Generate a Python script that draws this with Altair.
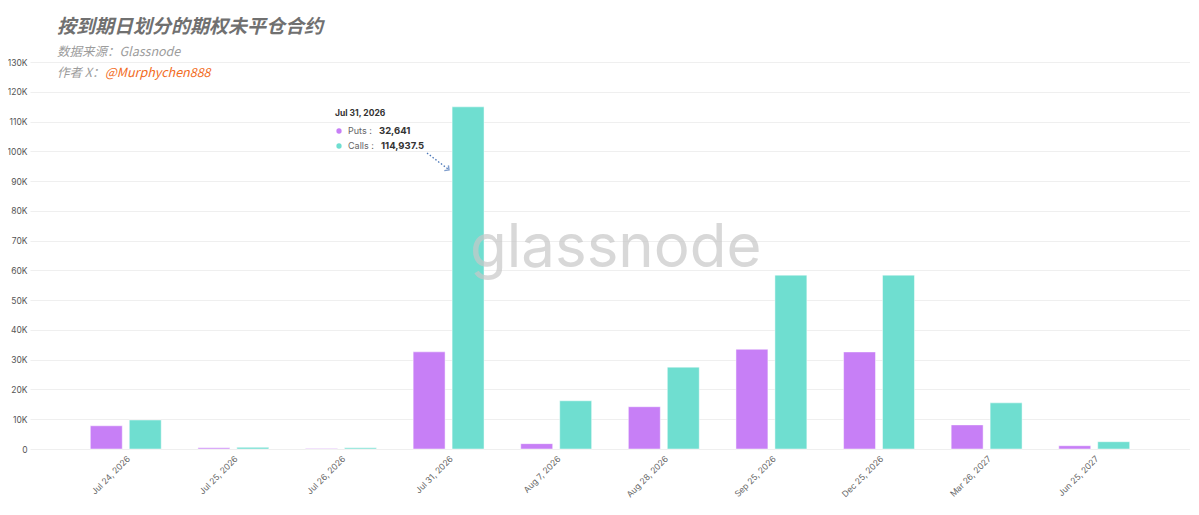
import altair as alt
import pandas as pd

dates = ["Jul 24, 2026", "Jul 25, 2026", "Jul 26, 2026", "Jul 31, 2026", "Aug 7, 2026",
         "Aug 28, 2026", "Sep 25, 2026", "Dec 25, 2026", "Mar 26, 2027", "Jun 25, 2027"]
puts = [7800, 400, 200, 32641, 1800, 14200, 33500, 32600, 8100, 1100]
calls = [9750, 550, 400, 114937.5, 16200, 27500, 58400, 58400, 15500, 2450]
series = ["Puts", "Calls"]
colors = ["#c77ff6", "#6fded0"]
y_ticks = list(range(0, 130001, 10000))

title = "按到期日划分的期权未平仓合约"
subtitle = "数据来源：Glassnode"
author = "作者 X："
handle = "@Murphychen888"
watermark = "glassnode"

rows = []
for d, p, c in zip(dates, puts, calls):
    rows.append({"date": d, "type": "Puts", "value": p})
    rows.append({"date": d, "type": "Calls", "value": c})
df = pd.DataFrame(rows)

W, H = 1160, 387

bars = alt.Chart(df).mark_bar(stroke="#ffffff", strokeWidth=0.8, strokeOpacity=0.6).encode(
    x=alt.X("date:N", sort=dates,
            scale=alt.Scale(paddingInner=0.2, paddingOuter=0.49),
            axis=alt.Axis(title=None, labelAngle=-45, labelFontSize=8.5, labelColor="#666666",
                          labelFont="Inter", ticks=False, domain=False, labelPadding=5, grid=False)),
    xOffset=alt.XOffset("type:N", sort=series,
                        scale=alt.Scale(paddingInner=0.18, paddingOuter=0.195)),
    y=alt.Y("value:Q", scale=alt.Scale(domain=[0, 130000], nice=False),
            axis=alt.Axis(title=None, values=y_ticks,
                          labelExpr="datum.value == 0 ? '0' : (datum.value / 1000) + 'K'",
                          domain=False, ticks=False, gridColor="#efefef", labelFontSize=8.5,
                          labelColor="#555555", labelFont="Inter", labelPadding=3)),
    color=alt.Color("type:N", scale=alt.Scale(domain=series, range=colors), legend=None),
)

def txt(s, x, y, size, color, weight="normal", style="normal", font="Inter", baseline="middle", opacity=1):
    return alt.Chart(pd.DataFrame({"t": [s]})).mark_text(
        align="left", baseline=baseline, fontSize=size, color=color, fontWeight=weight,
        fontStyle=style, font=font, opacity=opacity
    ).encode(x=alt.value(x), y=alt.value(y), text="t:N")

cjk = "Noto Sans CJK SC"
t_title = txt(title, 27, -35, 19, "#707070", weight="bold", style="italic", font=cjk)
t_sub = txt(subtitle, 27, -10, 12.5, "#9c9c9c", style="italic", font=cjk)
t_auth = txt(author, 27, 11, 12.5, "#9c9c9c", style="italic", font=cjk)
t_handle = txt(handle, 75, 11, 12.5, "#f26b1d", style="italic", font=cjk)

t_wm = txt(watermark, 440, 205, 60, "#c8c8c8", font="Inter", baseline="alphabetic", opacity=0.7)

i = 3
tip_date = txt(dates[i], 305, 51, 8.5, "#333333", weight="bold")
tip_puts_l = txt("Puts :", 318, 69, 9, "#666666")
tip_puts_v = txt(f"{puts[i]:,}", 349, 69, 9.5, "#333333", weight="bold")
tip_calls_l = txt("Calls :", 318, 84, 9, "#666666")
tip_calls_v = txt(f"{calls[i]:,}", 351, 84, 9.5, "#333333", weight="bold")

dots = alt.Chart(pd.DataFrame({"type": series, "yy": [69, 84]})).mark_point(
    filled=True, size=28, opacity=1
).encode(
    x=alt.value(309), y=alt.Y("yy:Q", scale=None),
    color=alt.Color("type:N", scale=alt.Scale(domain=series, range=colors), legend=None),
)

arrow = alt.Chart(pd.DataFrame({"a": [0]})).mark_rule(
    color="#4a76b8", strokeWidth=1.3, strokeDash=[1.5, 2]
).encode(x=alt.value(397), y=alt.value(91), x2=alt.value(418), y2=alt.value(107))

head = alt.Chart(pd.DataFrame({"a": [0]})).mark_point(
    shape="M-1,-1L0,0L-1,1", filled=False, size=45, stroke="#4a76b8", strokeWidth=1.4, angle=38
).encode(x=alt.value(419), y=alt.value(108))

chart = alt.layer(
    bars, t_wm, t_title, t_sub, t_auth, t_handle,
    tip_date, tip_puts_l, tip_puts_v, tip_calls_l, tip_calls_v, dots, arrow, head
).resolve_scale(color="independent", y="independent").properties(
    width=W, height=H,
    autosize=alt.AutoSizeParams(type="none"),
    padding={"left": 22, "top": 54, "right": 0, "bottom": 62},
    background="#ffffff",
).configure_view(stroke=None)

chart.save("out.html", embed_options={"renderer": "svg", "actions": False})
